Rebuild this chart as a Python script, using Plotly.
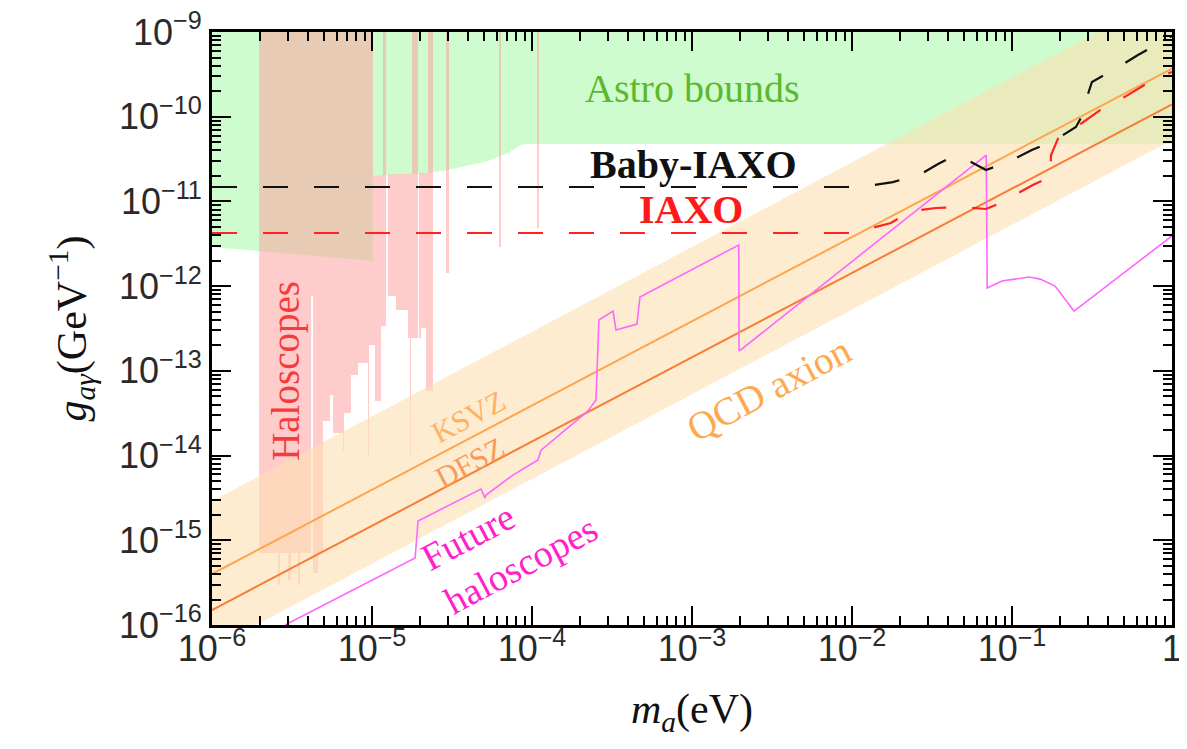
import numpy as np
import plotly.graph_objects as go

# ---------------- data ----------------
x_range = [1e-6, 1.0]
y_range = [1e-16, 1e-9]
x_tick_vals = [1e-6, 1e-5, 1e-4, 1e-3, 1e-2, 1e-1, 1.0]
x_tick_text = ['10<sup>−6</sup>', '10<sup>−5</sup>', '10<sup>−4</sup>', '10<sup>−3</sup>',
               '10<sup>−2</sup>', '10<sup>−1</sup>', '1']
y_tick_vals = [1e-16, 1e-15, 1e-14, 1e-13, 1e-12, 1e-11, 1e-10, 1e-9]
y_tick_text = ['10<sup>−16</sup>', '10<sup>−15</sup>', '10<sup>−14</sup>', '10<sup>−13</sup>',
               '10<sup>−12</sup>', '10<sup>−11</sup>', '10<sup>−10</sup>', '10<sup>−9</sup>']

# Astro bounds: lower boundary of the green region (upper boundary = top of plot)
astro_m = [1e-6, 1.97e-6, 1.0145e-5, 1.0145e-5, 2.24e-5, 2.99e-5, 5.3e-5, 7.1e-5, 8.5e-5, 9.1e-5, 1.0]
astro_g = [2.9e-12, 2.6e-12, 1.98e-12, 2.0e-11, 2.17e-11, 2.35e-11, 3.0e-11, 3.73e-11, 4.64e-11, 4.77e-11, 4.77e-11]
astro_top = 1e-9

# Haloscopes: step-wise excluded band (segment edges, top and bottom of each segment)
halo_edges = [1.97e-6, 2.59e-6, 2.66e-6, 2.99e-6, 3.12e-6, 3.45e-6, 3.55e-6, 4.16e-6, 4.28e-6,
              4.6e-6, 4.94e-6, 5.46e-6, 5.71e-6, 6.59e-6, 6.68e-6, 7.39e-6, 8.18e-6, 9.44e-6,
              9.58e-6, 1.0145e-5, 1.044e-5, 1.138e-5, 1.172e-5, 1.224e-5, 1.259e-5, 1.413e-5,
              1.679e-5, 1.728e-5, 1.753e-5, 1.778e-5, 1.94e-5, 1.967e-5, 2.024e-5, 2.175e-5,
              2.239e-5, 2.405e-5]
halo_top = [1e-9, 1e-9, 1e-9, 1e-9, 1e-9, 1e-9, 1e-9, 1e-9, 1e-9, 1e-9,
            1e-9, 1e-9, 1e-9, 1e-9, 1e-9, 1e-9, 1e-9, 1e-9, 1e-9,
            2.0e-11, 2.02e-11, 2.05e-11, 1e-9, 2.08e-11, 2.1e-11, 2.12e-11,
            2.14e-11, 2.14e-11, 2.14e-11, 1e-9, 2.16e-11, 2.16e-11, 2.17e-11,
            2.17e-11, 1e-9]
halo_bot = [7.1e-16, 2.96e-16, 7.1e-16, 3.4e-16, 7.1e-16, 2.96e-16, 7.1e-16, 7.64e-13, 4.1e-16,
            7.1e-16, 2.56e-14, 5.18e-14, 1.85e-14, 1.13e-14, 3.18e-14, 8.94e-14, 1.24e-13, 1.02e-14,
            2.02e-13, 2.02e-13, 4.41e-14, 3.38e-13, 3.38e-13, 2.08e-11, 7.64e-13, 5.22e-13,
            2.44e-13, 9.9e-15, 2.44e-13, 2.44e-13, 2.16e-11, 2.44e-13, 3.2e-13,
            5.78e-14, 5.78e-14]
# isolated narrow haloscope exclusions
halo_line_m0 = [2.9e-5, 6.22e-5, 1.075e-4]
halo_line_m1 = [3.03e-5, 6.4e-5, 1.106e-4]
halo_line_lo = [1.43e-12, 2.9e-12, 4.85e-12]
halo_line_hi = [1e-9, 1e-9, 1e-9]

# QCD axion band and benchmark models
band_m = [1e-6, 1.0]
band_lo = [5.3e-17, 5.3e-11]
band_hi = [2.9e-15, 2.9e-9]
ksvz_m = [1e-6, 1.0]
ksvz_g = [4.0e-16, 3.7e-10]
dfsz_m = [1e-6, 1.0]
dfsz_g = [1.5e-16, 1.4e-10]

# Future haloscopes (magenta)
fut_m = [2.86e-6, 1.86e-5, 1.94e-5, 4.80e-5, 5.08e-5, 5.16e-5, 7.60e-5, 1.09e-4, 1.14e-4,
         2.24e-4, 2.51e-4, 2.62e-4, 3.21e-4, 3.35e-4, 4.53e-4, 4.73e-4, 1.96e-3, 1.97e-3,
         6.9e-2, 7.0e-2, 8.66e-2, 0.128, 0.150, 0.186, 0.244, 1.0]
fut_g = [1e-16, 6.18e-16, 1.69e-15, 4.03e-15, 3.15e-15, 3.42e-15, 5.89e-15, 8.87e-15, 1.16e-14,
         3.36e-14, 4.53e-14, 3.98e-13, 5.08e-13, 3.03e-13, 3.57e-13, 7.45e-13, 3.06e-12, 1.71e-13,
         3.53e-11, 9.5e-13, 1.15e-12, 1.28e-12, 1.21e-12, 1.0e-12, 5.08e-13, 3.91e-12]

# Baby-IAXO (black dashed)
biaxo_m = [1e-6, 9.44e-3, 1.26e-2, 1.80e-2, 2.70e-2, 3.45e-2, 3.98e-2, 4.94e-2, 5.70e-2, 6.88e-2,
           9.44e-2, 0.133, 0.186, 0.251, 0.274, 0.290, 0.316, 0.453, 0.613, 0.841, 1.0]
biaxo_g = [1.48e-11, 1.48e-11, 1.52e-11, 1.69e-11, 2.11e-11, 2.77e-11, 3.17e-11, 3.26e-11, 2.84e-11, 2.35e-11,
           2.92e-11, 4.04e-11, 5.31e-11, 7.56e-11, 1.02e-10, 1.57e-10, 2.57e-10, 3.76e-10, 5.35e-10, 7.41e-10, 8.97e-10]

# IAXO (red dashed)
iaxo_m = [1e-6, 1.01e-2, 1.19e-2, 1.75e-2, 2.34e-2, 3.35e-2, 4.94e-2, 6.88e-2, 8.18e-2, 9.86e-2,
          0.135, 0.168, 0.173, 0.1754, 0.197, 0.274, 0.371, 0.516, 0.739, 1.0]
iaxo_g = [4.24e-12, 4.24e-12, 4.6e-12, 5.56e-12, 7.7e-12, 8.36e-12, 8.59e-12, 8.14e-12, 9.33e-12, 1.13e-11,
          1.56e-11, 1.89e-11, 1.89e-11, 3.53e-11, 5.92e-11, 8.43e-11, 1.27e-10, 1.75e-10, 2.64e-10, 3.38e-10]

# ---------------- helpers ----------------
def step_polygon(edges, top, bot):
    xs, ys = [], []
    for i in range(len(top)):
        xs += [edges[i], edges[i + 1]]
        ys += [top[i], top[i]]
    for i in reversed(range(len(bot))):
        xs += [edges[i + 1], edges[i]]
        ys += [bot[i], bot[i]]
    xs.append(xs[0]); ys.append(ys[0])
    return xs, ys

fig = go.Figure()

# Astro bounds (green)
fig.add_trace(go.Scatter(x=astro_m + astro_m[::-1], y=astro_g + [astro_top] * len(astro_m),
                         fill='toself', mode='lines', line=dict(width=0),
                         fillcolor='rgb(207,252,207)', hoverinfo='skip', showlegend=False))

# Haloscopes (pink, translucent)
hx, hy = step_polygon(halo_edges, halo_top, halo_bot)
for a, b, lo, hi in zip(halo_line_m0, halo_line_m1, halo_line_lo, halo_line_hi):
    hx += [None, a, b, b, a, a]
    hy += [None, lo, lo, hi, hi, lo]
fig.add_trace(go.Scatter(x=hx, y=hy, fill='toself', mode='lines', line=dict(width=0),
                         fillcolor='rgba(255,153,153,0.5)', hoverinfo='skip', showlegend=False))

# QCD axion band
fig.add_trace(go.Scatter(x=band_m + band_m[::-1], y=band_lo + band_hi[::-1], fill='toself', mode='lines',
                         line=dict(width=0), fillcolor='rgba(252,223,177,0.6)', hoverinfo='skip',
                         showlegend=False))

# KSVZ / DFSZ
fig.add_trace(go.Scatter(x=ksvz_m, y=ksvz_g, mode='lines', line=dict(color='#ffa54d', width=2),
                         showlegend=False, hoverinfo='skip'))
fig.add_trace(go.Scatter(x=dfsz_m, y=dfsz_g, mode='lines', line=dict(color='#f77c35', width=2),
                         showlegend=False, hoverinfo='skip'))

# Future haloscopes
fig.add_trace(go.Scatter(x=fut_m, y=fut_g, mode='lines', line=dict(color='#ff66ff', width=1.6),
                         showlegend=False, hoverinfo='skip'))

# Baby-IAXO and IAXO
fig.add_trace(go.Scatter(x=biaxo_m, y=biaxo_g, mode='lines',
                         line=dict(color='#111111', width=2.2, dash='25px,26px'),
                         showlegend=False, hoverinfo='skip'))
fig.add_trace(go.Scatter(x=iaxo_m, y=iaxo_g, mode='lines',
                         line=dict(color='#ff2222', width=2.2, dash='25px,26px'),
                         showlegend=False, hoverinfo='skip'))

SERIF = 'Liberation Serif'
ANG = -27.9

def note(text, lx, ly, color, size, angle=0, bold=False, align='center'):
    if bold:
        text = '<b>' + text + '</b>'
    fig.add_annotation(x=lx, y=ly, xref='x', yref='y', text=text, showarrow=False,
                       textangle=angle, align=align,
                       font=dict(family=SERIF, size=size, color=color))

note('Astro bounds', -3.0, -9.67, '#5cb82e', 40)
note('Baby-IAXO', -2.99, -10.56, '#111111', 40, bold=True)
note('IAXO', -3.006, -11.10, '#ff1a1a', 40, bold=True)
note('Haloscopes', -5.5375, -13.0, '#f53b3b', 39, angle=-90)
note('KSVZ', -4.40, -13.533, '#ffb266', 30, angle=ANG)
note('DFSZ', -4.39, -14.076, '#f79a5a', 30, angle=ANG)
note('QCD axion', -2.519, -13.203, '#ffa94f', 39, angle=ANG)
note('Future<br>haloscopes', -4.14, -15.03, '#ff22cc', 38, angle=ANG, align='left')

tickfont = dict(family='Liberation Sans', size=36, color='#2a2a2a')
common = dict(type='log', showgrid=False, zeroline=False, showline=True, linecolor='black',
              linewidth=3, mirror='allticks', ticks='inside', ticklen=19, tickwidth=1.5,
              tickcolor='black', tickmode='array', ticklabeloverflow='allow', automargin=False,
              minor=dict(ticks='inside', ticklen=9, tickwidth=1.5, tickcolor='black',
                         dtick='D1', showgrid=False),
              tickfont=tickfont)

# tiny pad on the range ends so the boundary ticks (10^-9, 1) survive float rounding
fig.update_xaxes(range=[np.log10(x_range[0]) - 1e-6, np.log10(x_range[1]) + 1e-6],
                 tickvals=x_tick_vals, ticktext=x_tick_text, ticklabelstandoff=-10,
                 title=dict(text='<i>m</i><sub><i>a</i></sub>(eV)',
                            font=dict(family=SERIF, size=42, color='#111111'), standoff=26),
                 **common)
fig.update_yaxes(range=[np.log10(y_range[0]) - 1e-6, np.log10(y_range[1]) + 1e-6],
                 tickvals=y_tick_vals, ticktext=y_tick_text,
                 title=dict(text='<i>g</i><sub><i>aγ</i></sub>(GeV<sup>−1</sup>)',
                            font=dict(family=SERIF, size=42, color='#111111'), standoff=20),
                 **common)

fig.update_layout(width=1187, height=749, autosize=False,
                  margin=dict(l=204, r=23, t=24, b=132, pad=0),
                  plot_bgcolor='white', paper_bgcolor='white')

fig.write_html('out.html')
